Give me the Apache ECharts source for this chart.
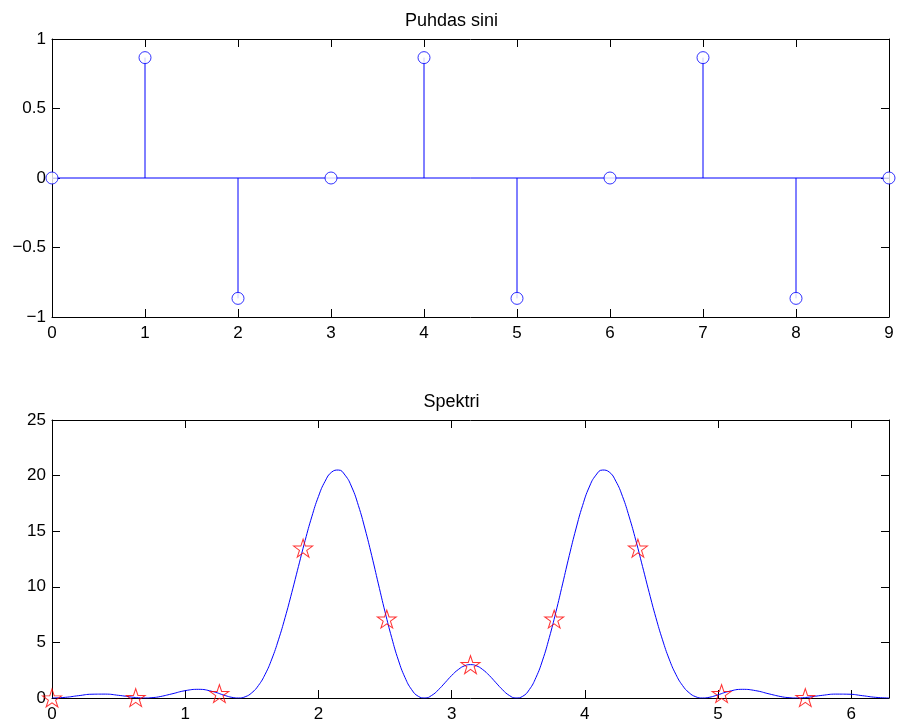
<!DOCTYPE html>
<html>
<head>
<meta charset="utf-8">
<title>Puhdas sini / Spektri</title>
<script src="https://cdn.jsdelivr.net/npm/echarts@6/dist/echarts.min.js"></script>
<style>
  html, body { margin: 0; padding: 0; background: #fff; }
  #chart_main { width: 903px; height: 727px; }
</style>
</head>
<body>
<div id="chart_main"></div>
<script>
  // top plot: samples of the pure sine
  var nIndex = [0, 1, 2, 3, 4, 5, 6, 7, 8, 9];
  var sineValues = [0, 0.866, -0.866, 0, 0.866, -0.866, 0, 0.866, -0.866, 0];

  // bottom plot: spectrum curve
  var omega = [0, 0.1, 0.2, 0.3, 0.4, 0.5, 0.6, 0.65, 0.7, 0.75, 0.8, 0.9, 1.0, 1.1, 1.2, 1.3,
    1.35, 1.4, 1.45, 1.5, 1.55, 1.6, 1.65, 1.7, 1.75, 1.8, 1.85, 1.9, 1.95, 2.0, 2.05, 2.1, 2.15,
    2.2, 2.25, 2.3, 2.35, 2.4, 2.45, 2.5, 2.55, 2.6, 2.65, 2.7, 2.75, 2.8, 2.85, 2.9, 2.95, 3.0,
    3.05, 3.1, 3.1416,
    3.183, 3.233, 3.283, 3.333, 3.383, 3.433, 3.483, 3.533, 3.583, 3.633, 3.683, 3.733, 3.783,
    3.833, 3.883, 3.933, 3.983, 4.033, 4.083, 4.133, 4.183, 4.233, 4.283, 4.333, 4.383, 4.433,
    4.483, 4.533, 4.583, 4.633, 4.683, 4.733, 4.783, 4.833, 4.883, 4.933, 4.983, 5.083, 5.183,
    5.283, 5.383, 5.483, 5.533, 5.583, 5.633, 5.683, 5.783, 5.883, 5.983, 6.083, 6.183, 6.2832];
  var power = [0, 0.06, 0.21, 0.34, 0.35, 0.24, 0.08, 0.02, 0.00, 0.03, 0.10, 0.37, 0.66, 0.78, 0.60, 0.22,
    0.06, 0.00, 0.11, 0.47, 1.13, 2.13, 3.50, 5.23, 7.24, 9.48, 11.83, 14.16, 16.29, 18.12, 19.49, 20.32, 20.50,
    20.04, 18.97, 17.31, 15.20, 12.81, 10.26, 7.75, 5.43, 3.41, 1.84, 0.75, 0.15, 0.00, 0.23, 0.73, 1.37, 2.02,
    2.56, 2.91, 3.00,
    2.91, 2.56, 2.02, 1.37, 0.73, 0.23, 0.00, 0.15, 0.75, 1.84, 3.41, 5.43, 7.75,
    10.26, 12.81, 15.20, 17.31, 18.97, 20.04, 20.50, 20.32, 19.49, 18.12, 16.29, 14.16, 11.83,
    9.48, 7.24, 5.23, 3.50, 2.13, 1.13, 0.47, 0.11, 0.00, 0.06, 0.22, 0.60, 0.78,
    0.66, 0.37, 0.10, 0.03, 0.00, 0.02, 0.08, 0.24, 0.35, 0.34, 0.21, 0.06, 0];

  // the DFT points (stars)
  var dftOmega = [0, 0.6283, 1.2566, 1.885, 2.5133, 3.1416, 3.7699, 4.3982, 5.0265, 5.6549];
  var dftPower = [0, 0.04, 0.40, 13.47, 7.10, 3.00, 7.10, 13.47, 0.40, 0.04];

  var font = "'Liberation Sans', Arial, Helvetica, sans-serif";
  var blue = '#0000ff';
  var starPath = 'path://M50 0 L61.23 34.55 L97.55 34.55 L68.17 55.9 L79.39 90.45 L50 69.1 L20.61 90.45 L31.83 55.9 L2.45 34.55 L38.77 34.55 Z';

  function pairs(xs, ys) {
    return xs.map(function (x, i) { return [x, ys[i]]; });
  }
  function minusSign(v) {
    return String(v).replace('-', '\u2212');
  }

  function boxAxis(type, gridIndex, position, min, max, interval, showLabel, labelFmt) {
    return {
      type: 'value',
      gridIndex: gridIndex,
      position: position,
      min: min,
      max: max,
      interval: interval,
      axisLine: { show: true, onZero: false, lineStyle: { color: '#000', width: 1 } },
      axisTick: { show: true, inside: true, length: 8, lineStyle: { color: '#000' } },
      splitLine: { show: false },
      axisLabel: {
        show: showLabel,
        color: '#000',
        fontSize: 17,
        fontFamily: font,
        margin: type === 'x' ? 8 : 6,
        formatter: labelFmt
      }
    };
  }

  var myChart = echarts.init(document.getElementById('chart_main'));
  var option = {
    backgroundColor: '#fff',
    animation: false,
    title: [
      {
        text: 'Puhdas sini',
        left: 'center',
        top: 7,
        textStyle: { color: '#000', fontSize: 18, fontWeight: 'normal', fontFamily: font }
      },
      {
        text: 'Spektri',
        left: 'center',
        top: 388,
        textStyle: { color: '#000', fontSize: 18, fontWeight: 'normal', fontFamily: font }
      }
    ],
    grid: [
      { left: 52, right: 14, top: 39, height: 278 },
      { left: 52, right: 14, top: 420, height: 278 }
    ],
    xAxis: [
      boxAxis('x', 0, 'bottom', 0, 9, 1, true, minusSign),
      boxAxis('x', 0, 'top', 0, 9, 1, false),
      boxAxis('x', 1, 'bottom', 0, 6.2832, 1, true, function (v) {
        return Math.abs(v - Math.round(v)) < 1e-6 ? String(Math.round(v)) : '';
      }),
      boxAxis('x', 1, 'top', 0, 6.2832, 1, false)
    ],
    yAxis: [
      boxAxis('y', 0, 'left', -1, 1, 0.5, true, minusSign),
      boxAxis('y', 0, 'right', -1, 1, 0.5, false),
      boxAxis('y', 1, 'left', 0, 25, 5, true, minusSign),
      boxAxis('y', 1, 'right', 0, 25, 5, false)
    ],
    series: [
      {
        name: 'baseline',
        type: 'line',
        xAxisIndex: 0,
        yAxisIndex: 0,
        data: [[nIndex[0], 0], [nIndex[nIndex.length - 1], 0]],
        symbol: 'none',
        lineStyle: { color: blue, width: 1 },
        z: 2
      },
      {
        name: 'stems',
        type: 'custom',
        xAxisIndex: 0,
        yAxisIndex: 0,
        data: pairs(nIndex, sineValues),
        renderItem: function (params, api) {
          var p0 = api.coord([api.value(0), 0]);
          var p1 = api.coord([api.value(0), api.value(1)]);
          return {
            type: 'line',
            shape: { x1: p0[0], y1: p0[1], x2: p1[0], y2: p1[1] },
            style: { stroke: blue, lineWidth: 1 }
          };
        },
        z: 3
      },
      {
        name: 'samples',
        type: 'scatter',
        xAxisIndex: 0,
        yAxisIndex: 0,
        data: pairs(nIndex, sineValues),
        symbol: 'circle',
        symbolSize: 12,
        itemStyle: { color: '#fff', borderColor: blue, borderWidth: 1 },
        z: 4
      },
      {
        name: 'spectrum',
        type: 'line',
        xAxisIndex: 2,
        yAxisIndex: 2,
        data: pairs(omega, power),
        smooth: true,
        symbol: 'none',
        lineStyle: { color: blue, width: 1 },
        z: 2
      },
      {
        name: 'dft',
        type: 'scatter',
        xAxisIndex: 2,
        yAxisIndex: 2,
        data: pairs(dftOmega, dftPower),
        symbol: starPath,
        symbolSize: [19, 18],
        itemStyle: { color: 'none', borderColor: '#ff0000', borderWidth: 1 },
        z: 4
      }
    ]
  };
  myChart.setOption(option);
</script>
</body>
</html>
